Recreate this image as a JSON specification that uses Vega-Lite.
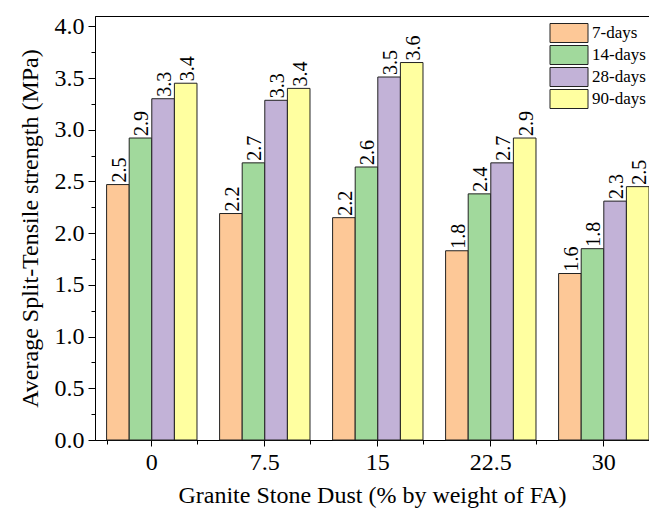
{
  "$schema": "https://vega.github.io/schema/vega-lite/v6.json",
  "width": 554,
  "height": 424,
  "autosize": {"type": "none"},
  "padding": {"left": 95, "top": 16, "right": 0, "bottom": 72},
  "background": "white",
  "config": {
    "view": {"stroke": "black", "strokeWidth": 1},
    "axis": {
      "grid": false,
      "domainColor": "black",
      "tickColor": "black",
      "labelColor": "black",
      "titleColor": "black",
      "labelFont": "Liberation Serif",
      "titleFont": "Liberation Serif",
      "labelFontSize": 24,
      "titleFontSize": 24,
      "titleFontWeight": "normal"
    }
  },
  "data": {
    "values": [
      {"dust": "0", "age": "7-days", "value": 2.47, "label": "2.5"},
      {"dust": "0", "age": "14-days", "value": 2.92, "label": "2.9"},
      {"dust": "0", "age": "28-days", "value": 3.30, "label": "3.3"},
      {"dust": "0", "age": "90-days", "value": 3.45, "label": "3.4"},
      {"dust": "7.5", "age": "7-days", "value": 2.19, "label": "2.2"},
      {"dust": "7.5", "age": "14-days", "value": 2.68, "label": "2.7"},
      {"dust": "7.5", "age": "28-days", "value": 3.285, "label": "3.3"},
      {"dust": "7.5", "age": "90-days", "value": 3.40, "label": "3.4"},
      {"dust": "15", "age": "7-days", "value": 2.15, "label": "2.2"},
      {"dust": "15", "age": "14-days", "value": 2.64, "label": "2.6"},
      {"dust": "15", "age": "28-days", "value": 3.51, "label": "3.5"},
      {"dust": "15", "age": "90-days", "value": 3.65, "label": "3.6"},
      {"dust": "22.5", "age": "7-days", "value": 1.83, "label": "1.8"},
      {"dust": "22.5", "age": "14-days", "value": 2.38, "label": "2.4"},
      {"dust": "22.5", "age": "28-days", "value": 2.68, "label": "2.7"},
      {"dust": "22.5", "age": "90-days", "value": 2.92, "label": "2.9"},
      {"dust": "30", "age": "7-days", "value": 1.61, "label": "1.6"},
      {"dust": "30", "age": "14-days", "value": 1.85, "label": "1.8"},
      {"dust": "30", "age": "28-days", "value": 2.31, "label": "2.3"},
      {"dust": "30", "age": "90-days", "value": 2.45, "label": "2.5"}
    ]
  },
  "layer": [
    {
      "mark": {"type": "bar", "stroke": "#222222", "strokeWidth": 1},
      "encoding": {
        "x": {
          "field": "dust", "type": "nominal", "sort": null,
          "scale": {"paddingInner": 0.2, "paddingOuter": 0.0513, "align": 1},
          "axis": {
            "orient": "bottom",
            "title": "Granite Stone Dust (% by weight of FA)",
            "labelAngle": 0, "tickSize": 6, "labelPadding": 4, "titlePadding": 9
          }
        },
        "xOffset": {
          "field": "age", "type": "nominal", "sort": null,
          "scale": {"domain": ["7-days", "14-days", "28-days", "90-days"], "paddingInner": 0, "paddingOuter": 0}
        },
        "y": {
          "field": "value", "type": "quantitative",
          "scale": {"domain": [0, 4.1], "nice": false},
          "axis": {
            "orient": "left",
            "title": "Average Split-Tensile strength (MPa)",
            "values": [0, 0.5, 1, 1.5, 2, 2.5, 3, 3.5, 4],
            "format": ".1f", "tickSize": 7, "labelPadding": 4, "titlePadding": 12
          }
        },
        "color": {
          "field": "age", "type": "nominal",
          "scale": {
            "domain": ["7-days", "14-days", "28-days", "90-days"],
            "range": ["#FDC897", "#A1D99C", "#C2B2D7", "#FFFFA0"]
          },
          "legend": {
            "title": null,
            "orient": "none",
            "legendX": 464,
            "legendY": 7,
            "padding": 0,
            "symbolType": "M-2,-1H2V1H-2Z",
            "symbolSize": 361,
            "symbolStrokeColor": "#222222",
            "symbolStrokeWidth": 1,
            "symbolOpacity": 1,
            "labelFont": "Liberation Serif",
            "labelFontSize": 17,
            "labelColor": "black",
            "labelOffset": 13,
            "rowPadding": -8
          }
        }
      }
    },
    {
      "mark": {
        "type": "text", "angle": 270, "align": "left", "baseline": "alphabetic",
        "dx": 2, "dy": 8, "font": "Liberation Sans Narrow", "fontSize": 20, "color": "black"
      },
      "encoding": {
        "x": {
          "field": "dust", "type": "nominal", "sort": null,
          "axis": {"orient": "bottom", "tickBand": "extent", "labels": false, "title": null, "tickSize": 4, "domain": false}
        },
        "xOffset": {"field": "age", "type": "nominal", "sort": null},
        "y": {
          "field": "value", "type": "quantitative",
          "axis": {
            "orient": "left", "labels": false, "title": null, "domain": false, "tickSize": 4,
            "values": [0.25, 0.75, 1.25, 1.75, 2.25, 2.75, 3.25, 3.75]
          }
        },
        "text": {"field": "label", "type": "nominal"}
      }
    }
  ],
  "resolve": {"axis": {"x": "independent", "y": "independent"}}
}
